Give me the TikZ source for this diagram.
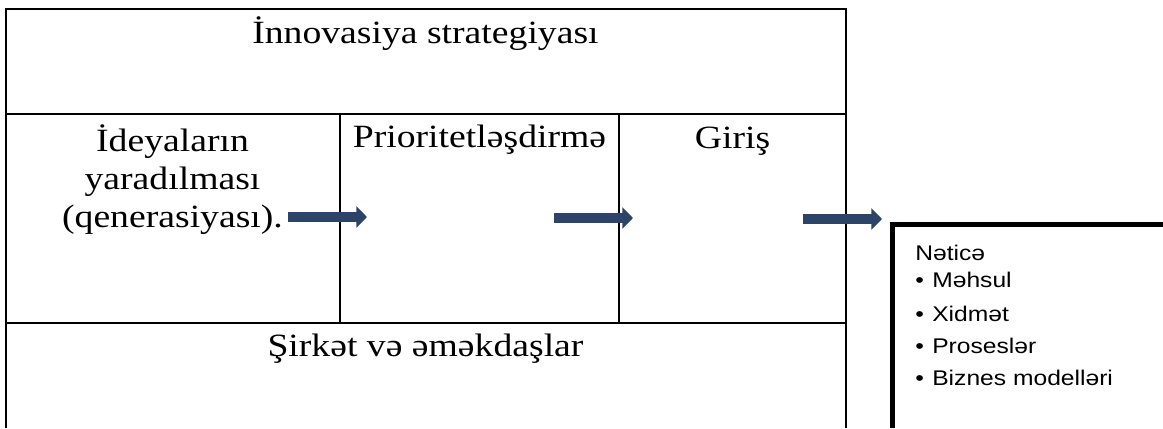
\documentclass[tikz,border=0pt]{standalone}
\usepackage{fontspec}
\setmainfont[FakeStretch=1.16]{Liberation Serif}
\newfontfamily\listfont[FakeStretch=1.16]{Liberation Sans}
\usetikzlibrary{arrows.meta}
\definecolor{flowblue}{RGB}{44,68,104}

\begin{document}
\begin{tikzpicture}[x=0.025cm,y=-0.025cm,inner sep=0mm,
  celltext/.style={anchor=base,font=\fontsize{23.1}{27}\selectfont},
  listtext/.style={anchor=base west,font=\listfont\fontsize{15.1}{18}\selectfont},
  flow/.style={line width=7.1pt,draw=flowblue,-{Triangle[length=7.6pt,width=15pt,fill=flowblue]}}]
\useasboundingbox (0,0) rectangle (1163,428);

% table
\draw[line width=1.4pt] (6,428) -- (6,9) -- (846,9) -- (846,428);
\draw[line width=1.4pt] (6,114) -- (846,114);
\draw[line width=1.4pt] (6,323) -- (846,323);
\draw[line width=1.4pt] (340,114) -- (340,323);
\draw[line width=1.4pt] (619,114) -- (619,323);

\node (strat) at (425.5,43)[celltext]{İnnovasiya strategiyası};
\node (idea1) at (172.5,151)[celltext]{İdeyaların};
\node (idea2) at (172.5,189)[celltext]{yaradılması};
\node (idea3) at (172.5,227)[celltext]{(qenerasiyası).};
\node (prio) at (479.5,147)[celltext]{Prioritetləşdirmə};
\node (giris) at (732.5,148)[celltext]{Giriş};
\node (sirket) at (425.5,356)[celltext]{Şirkət və əməkdaşlar};

% arrows
\coordinate (a1s) at (288,217);
\coordinate (a1e) at (367,217);
\coordinate (a2s) at (554,218);
\coordinate (a2e) at (633,218);
\coordinate (a3s) at (803,219);
\coordinate (a3e) at (882,219);
\draw[flow] (a1s) -- (a1e);
\draw[flow] (a2s) -- (a2e);
\draw[flow] (a3s) -- (a3e);

% result box
\draw[line width=3.6pt] (892.5,428) -- (892.5,224.5) -- (1163,224.5);

\node (netice) at (915,260)[listtext]{Nəticə};
\node (mehsul) at (915,287)[listtext]{\makebox[12.1pt][l]{•}Məhsul};
\node (xidmet) at (915,321)[listtext]{\makebox[12.1pt][l]{•}Xidmət};
\node (proses) at (915,353)[listtext]{\makebox[12.1pt][l]{•}Proseslər};
\node (biznes) at (915,385)[listtext]{\makebox[12.1pt][l]{•}Biznes modelləri};

\end{tikzpicture}
\end{document}
